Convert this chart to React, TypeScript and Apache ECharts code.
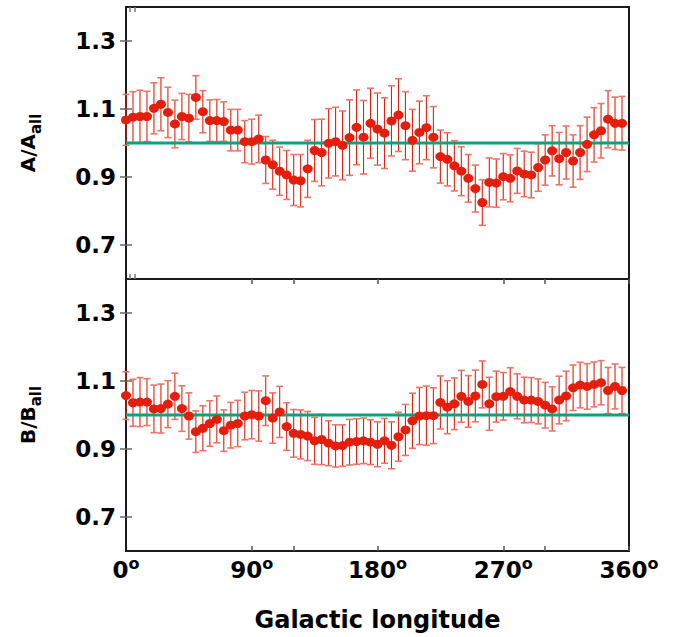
import React, { useEffect, useRef } from "react";
import * as echarts from "echarts";

const longitudes = [
  0, 5, 10, 15, 20, 25, 30, 35, 40, 45, 50, 55, 60, 65, 70, 75, 80, 85, 90, 95,
  100, 105, 110, 115, 120, 125, 130, 135, 140, 145, 150, 155, 160, 165, 170, 175,
  180, 185, 190, 195, 200, 205, 210, 215, 220, 225, 230, 235, 240, 245, 250, 255,
  260, 265, 270, 275, 280, 285, 290, 295, 300, 305, 310, 315, 320, 325, 330, 335,
  340, 345, 350, 355,
];

const ratioA = [
  1.068, 1.076, 1.078, 1.078, 1.102, 1.114, 1.09, 1.056, 1.078, 1.073,
  1.134, 1.092, 1.066, 1.066, 1.063, 1.038, 1.038, 1.004, 1.004, 1.012,
  0.95, 0.936, 0.917, 0.906, 0.891, 0.889, 0.924, 0.978, 0.972, 0.999,
  1.004, 0.993, 1.016, 1.046, 1.017, 1.058, 1.041, 1.029, 1.065, 1.082,
  1.051, 1.008, 1.031, 1.045, 1.017, 0.96, 0.952, 0.933, 0.917, 0.896,
  0.866, 0.825, 0.884, 0.882, 0.901, 0.896, 0.918, 0.909, 0.906, 0.928,
  0.95, 0.977, 0.954, 0.972, 0.947, 0.972, 0.996, 1.024, 1.036, 1.07,
  1.058, 1.058,
];

const errA = [
  0.075, 0.075, 0.077, 0.074, 0.075, 0.078, 0.074, 0.07, 0.068, 0.07,
  0.064, 0.062, 0.061, 0.062, 0.058, 0.061, 0.061, 0.062, 0.066, 0.07,
  0.069, 0.072, 0.071, 0.072, 0.075, 0.077, 0.084, 0.091, 0.098, 0.102,
  0.101, 0.101, 0.111, 0.11, 0.108, 0.103, 0.106, 0.104, 0.103, 0.107,
  0.1, 0.091, 0.092, 0.094, 0.09, 0.078, 0.078, 0.074, 0.072, 0.07,
  0.069, 0.067, 0.072, 0.071, 0.068, 0.069, 0.066, 0.067, 0.067, 0.07,
  0.074, 0.074, 0.077, 0.078, 0.077, 0.079, 0.08, 0.08, 0.08, 0.084,
  0.077, 0.079,
];

const ratioB = [
  1.057, 1.036, 1.038, 1.038, 1.018, 1.019, 1.032, 1.055, 1.019, 0.997,
  0.951, 0.961, 0.975, 0.987, 0.954, 0.97, 0.975, 0.997, 1.001, 0.997,
  1.042, 0.991, 1.009, 0.966, 0.946, 0.943, 0.938, 0.924, 0.928, 0.917,
  0.909, 0.91, 0.92, 0.922, 0.924, 0.92, 0.914, 0.924, 0.911, 0.936,
  0.956, 0.983, 0.997, 0.998, 0.998, 1.037, 1.023, 1.033, 1.055, 1.04,
  1.056, 1.09, 1.033, 1.054, 1.055, 1.069, 1.055, 1.044, 1.044, 1.04,
  1.029, 1.018, 1.044, 1.056, 1.08, 1.088, 1.084, 1.09, 1.095, 1.072,
  1.084, 1.072,
];

const errB = [
  0.07, 0.069, 0.072, 0.069, 0.07, 0.072, 0.069, 0.068, 0.067, 0.068,
  0.061, 0.066, 0.067, 0.069, 0.061, 0.067, 0.068, 0.07, 0.071, 0.074,
  0.073, 0.074, 0.075, 0.07, 0.07, 0.072, 0.072, 0.069, 0.074, 0.066,
  0.062, 0.061, 0.067, 0.067, 0.067, 0.066, 0.066, 0.066, 0.069, 0.072,
  0.075, 0.081, 0.084, 0.087, 0.082, 0.078, 0.078, 0.076, 0.076, 0.076,
  0.076, 0.069, 0.078, 0.075, 0.07, 0.07, 0.066, 0.067, 0.066, 0.066,
  0.067, 0.065, 0.07, 0.073, 0.067, 0.067, 0.067, 0.066, 0.065, 0.068,
  0.066, 0.068,
];

const yTickValues = [0.7, 0.9, 1.1, 1.3];
const xLabelValues = [0, 90, 180, 270, 360];
const xTickValues = [90, 120, 180, 270, 300, 360];
const topPanelTickValues = [3, 6];
const referenceLevel = [[0, 1], [360, 1]];

const FONT = "DejaVu Sans";
const RED = "#e41e0c";

function errorSeries(values: number[], errs: number[], idx: number) {
  return {
    type: "custom",
    xAxisIndex: idx * 2,
    yAxisIndex: idx * 2,
    z: 2,
    data: longitudes.map((l, i) => [l, values[i], errs[i]]),
    encode: { x: 0, y: 1 },
    renderItem: (params: any, api: any) => {
      const x = api.value(0);
      const y = api.value(1);
      const e = api.value(2);
      const t = api.coord([x, y + e]);
      const b = api.coord([x, y - e]);
      const hw = 3.5;
      return {
        type: "group",
        children: [
          {
            type: "line",
            shape: { x1: t[0], y1: t[1], x2: b[0], y2: b[1] },
            style: { stroke: "#e4200e", lineWidth: 1.1 },
          },
          {
            type: "line",
            shape: { x1: t[0] - hw, y1: t[1], x2: t[0] + hw, y2: t[1] },
            style: { stroke: "#f07468", lineWidth: 1.6 },
          },
          {
            type: "line",
            shape: { x1: b[0] - hw, y1: b[1], x2: b[0] + hw, y2: b[1] },
            style: { stroke: "#f07468", lineWidth: 1.6 },
          },
        ],
      };
    },
  };
}

function refSeries(idx: number) {
  return {
    type: "line",
    xAxisIndex: idx * 2,
    yAxisIndex: idx * 2,
    z: 3,
    data: referenceLevel,
    symbol: "none",
    lineStyle: { color: "#139e7c", width: 3 },
  };
}

function dotSeries(values: number[], idx: number) {
  return {
    type: "scatter",
    xAxisIndex: idx * 2,
    yAxisIndex: idx * 2,
    z: 4,
    data: longitudes.map((l, i) => [l, values[i]]),
    symbol: "circle",
    symbolSize: [10, 9],
    itemStyle: { color: RED, opacity: 1 },
  };
}

const labelStyle = {
  color: "#000",
  fontFamily: FONT,
  fontWeight: "bold" as const,
  fontSize: 23,
};

function yAxes(grid: number, mainName: string, sub: string) {
  const tick = {
    show: true,
    inside: true,
    length: 6,
    customValues: yTickValues,
    lineStyle: { color: "#666", width: 1.5 },
  };
  return [
    {
      gridIndex: grid,
      type: "value",
      min: 0.6,
      max: 1.4,
      position: "left",
      axisLine: { show: false },
      splitLine: { show: false },
      axisTick: tick,
      axisLabel: {
        ...labelStyle,
        margin: 10,
        customValues: yTickValues,
        formatter: (v: number) => v.toFixed(1),
      },
      name: `{a|${mainName}}{s|${sub}}`,
      nameLocation: "middle",
      nameRotate: 90,
      nameGap: 83,
      nameTextStyle: {
        rich: {
          a: {
            fontFamily: FONT,
            fontWeight: "bold",
            fontSize: 20,
            color: "#000",
            lineHeight: 30,
            verticalAlign: "middle",
          },
          s: {
            fontFamily: FONT,
            fontWeight: "bold",
            fontSize: 15,
            color: "#000",
            lineHeight: 30,
            verticalAlign: "bottom",
          },
        },
      },
    },
    {
      gridIndex: grid,
      type: "value",
      min: 0.6,
      max: 1.4,
      position: "right",
      axisLine: { show: false },
      splitLine: { show: false },
      axisTick: tick,
      axisLabel: { show: false },
    },
  ];
}

function xAxesTop() {
  const tick = {
    show: true,
    inside: true,
    length: 5,
    customValues: topPanelTickValues,
    lineStyle: { color: "#777", width: 1.5 },
  };
  return [
    {
      gridIndex: 0,
      type: "value",
      min: 0,
      max: 360,
      position: "bottom",
      axisLine: { show: false },
      splitLine: { show: false },
      axisTick: tick,
      axisLabel: { show: false },
    },
    {
      gridIndex: 0,
      type: "value",
      min: 0,
      max: 360,
      position: "top",
      axisLine: { show: false },
      splitLine: { show: false },
      axisTick: tick,
      axisLabel: { show: false },
    },
  ];
}

function xAxesBottom() {
  const tick = {
    show: true,
    inside: true,
    length: 5,
    customValues: xTickValues,
    lineStyle: { color: "#555", width: 1.5 },
  };
  return [
    {
      gridIndex: 1,
      type: "value",
      min: 0,
      max: 360,
      position: "bottom",
      axisLine: { show: false },
      splitLine: { show: false },
      axisTick: tick,
      axisLabel: {
        margin: 4,
        customValues: xLabelValues,
        formatter: (v: number) => `{n|${v}}{o|o}`,
        rich: {
          n: { ...labelStyle, fontSize: 23, lineHeight: 26, verticalAlign: "bottom" },
          o: { ...labelStyle, fontSize: 16, lineHeight: 26, verticalAlign: "top" },
        },
      },
      name: "Galactic longitude",
      nameLocation: "middle",
      nameGap: 57,
      nameTextStyle: { ...labelStyle, fontSize: 24 },
    },
    {
      gridIndex: 1,
      type: "value",
      min: 0,
      max: 360,
      position: "top",
      axisLine: { show: false },
      splitLine: { show: false },
      axisTick: tick,
      axisLabel: { show: false },
    },
  ];
}

export default function App() {
  const ref = useRef<HTMLDivElement>(null);
  useEffect(() => {
    if (!ref.current) return;
    const chart = echarts.init(ref.current, null, { renderer: "svg" });
    const gridBase = {
      left: 126,
      width: 503,
      height: 272,
      show: true,
      borderColor: "#1a1a1a",
      borderWidth: 2,
      backgroundColor: "transparent",
    };
    chart.setOption({
      animation: false,
      backgroundColor: "#fff",
      grid: [
        { ...gridBase, top: 7 },
        { ...gridBase, top: 279 },
      ],
      xAxis: [...xAxesTop(), ...xAxesBottom()],
      yAxis: [...yAxes(0, "A/A", "all"), ...yAxes(1, "B/B", "all")],
      series: [
        errorSeries(ratioA, errA, 0),
        refSeries(0),
        dotSeries(ratioA, 0),
        errorSeries(ratioB, errB, 1),
        refSeries(1),
        dotSeries(ratioB, 1),
      ],
    });
    return () => chart.dispose();
  }, []);
  return (
    <div
      ref={ref}
      style={{ position: "absolute", left: 0, top: 0, width: 680, height: 637 }}
    />
  );
}
